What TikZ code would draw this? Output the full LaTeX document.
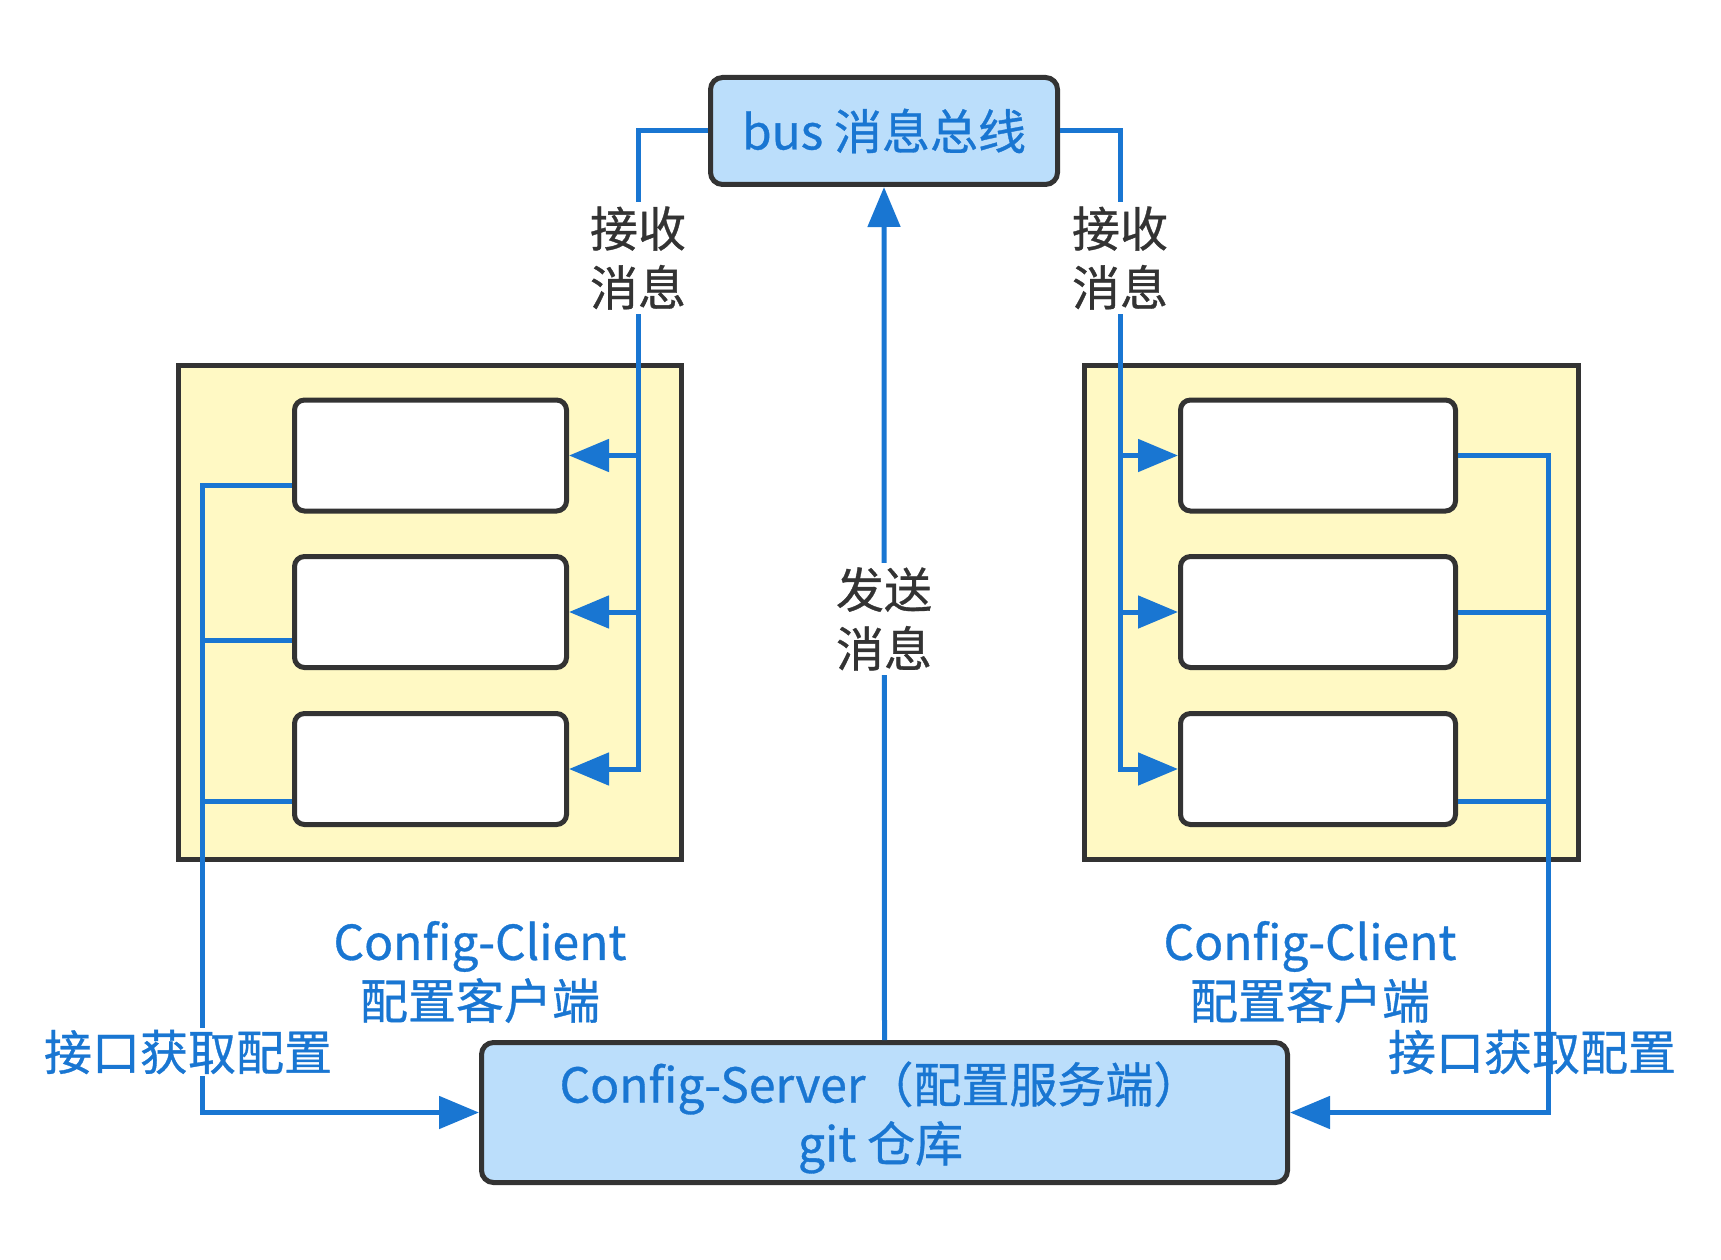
\documentclass[tikz,border=0pt]{standalone}
\usepackage{fontspec}
\setmainfont{Noto Sans CJK SC}[FakeBold=0.7]
\usetikzlibrary{arrows.meta,calc}
\definecolor{lnblue}{HTML}{1976D2}
\definecolor{busfill}{HTML}{BBDEFB}
\definecolor{grpfill}{HTML}{FFF9C4}
\definecolor{dk}{HTML}{333333}
\tikzset{
  txt/.style={font=\fontsize{48}{59}\selectfont, align=center, inner sep=4pt},
  bluetxt/.style={txt, text=lnblue},
  darktxt/.style={txt, text=dk},
  mainbox/.style={draw=dk, line width=5pt, rounded corners=12pt, fill=busfill, inner sep=0pt},
  grpbox/.style={draw=dk, line width=5pt, fill=grpfill, inner sep=0pt, minimum width=503pt, minimum height=494pt},
  clbox/.style={draw=dk, line width=5pt, rounded corners=10pt, fill=white, inner sep=0pt, minimum width=272pt, minimum height=111pt},
  bl/.style={draw=lnblue, line width=5pt},
  arr/.style={bl, -{Triangle[length=40pt,width=32pt]}},
}
\begin{document}
\begin{tikzpicture}[x=1pt,y=-1pt]
\useasboundingbox (0,0) rectangle (1721,1260);

% top bus
\node[mainbox, minimum width=347pt, minimum height=107pt] (bus) at (884,131) {};
\node[bluetxt] (bustxt) at (bus.center) {bus 消息总线};

% server
\node[mainbox, minimum width=806pt, minimum height=140pt] (server) at (884.5,1112.5) {};
\node[bluetxt] (servertxt) at ($(server.center)+(-4,5)$) {Config-Server（配置服务端）\\git 仓库};

% groups
\node[grpbox] (GL) at (430,612.5) {};
\node[grpbox, minimum width=494pt] (GR) at (1331.5,612.5) {};

% client boxes
\node[clbox] (L1) at (430.5,455.5) {};
\node[clbox] (L2) at (430.5,612) {};
\node[clbox] (L3) at (430.5,769) {};
\node[clbox, minimum width=275pt] (R1) at (1318,455.5) {};
\node[clbox, minimum width=275pt] (R2) at (1318,612) {};
\node[clbox, minimum width=275pt] (R3) at (1318,769) {};

% x positions of the trunk lines
\coordinate (LB) at (638,0);
\coordinate (RB) at (1120,0);
\coordinate (LL) at (202,0);
\coordinate (RR) at (1548,0);

% receive messages (left)
\draw[arr] (bus.west) -| (LB |- L3.east) -- (L3.east);
\draw[arr] (LB |- L1.east) -- (L1.east);
\draw[arr] (LB |- L2.east) -- (L2.east);
% receive messages (right)
\draw[arr] (bus.east) -| (RB |- R3.west) -- (R3.west);
\draw[arr] (RB |- R1.west) -- (R1.west);
\draw[arr] (RB |- R2.west) -- (R2.west);

% send message
\draw[arr] (server.north) -- (bus.south);

% fetch config (left)
\draw[arr] ($(L1.west)+(0,30)$) -| (LL |- server.west) -- (server.west);
\draw[bl] ($(L2.west)+(0,28)$) -- (LL |- {$(L2.west)+(0,28)$});
\draw[bl] ($(L3.west)+(0,32)$) -- (LL |- {$(L3.west)+(0,32)$});
% fetch config (right)
\draw[arr] (R1.east) -| (RR |- server.east) -- (server.east);
\draw[bl] (R2.east) -- (RR |- R2.east);
\draw[bl] ($(R3.east)+(0,32)$) -- (RR |- {$(R3.east)+(0,32)$});

% labels
\node[darktxt, fill=white] (recvL) at (638,258) {接收\\消息};
\node[darktxt, fill=white] (recvR) at (1120,258) {接收\\消息};
\node[darktxt, fill=white] (send) at (884,619) {发送\\消息};
\node[bluetxt] (cliL) at (480,972) {Config-Client\\配置客户端};
\node[bluetxt] (cliR) at (1310,972) {Config-Client\\配置客户端};
\node[bluetxt, fill=white, inner sep=2pt] (getL) at (188,1052) {接口获取配置};
\node[bluetxt] (getR) at (1532,1052) {接口获取配置};
\end{tikzpicture}
\end{document}
